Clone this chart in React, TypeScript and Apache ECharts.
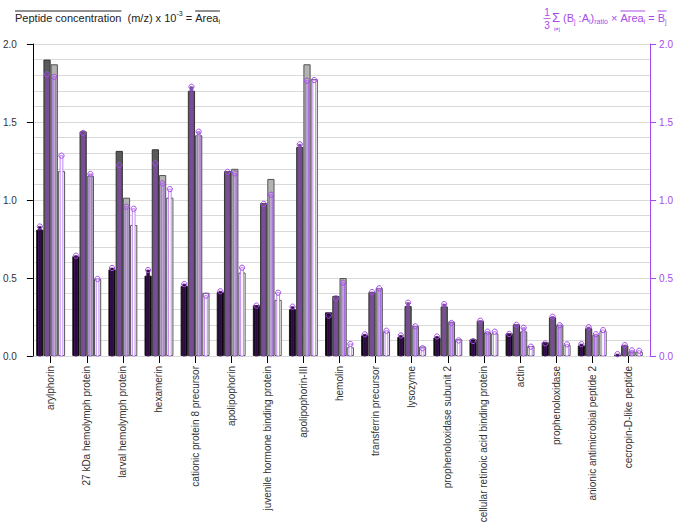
import React, { useEffect, useRef } from "react";
import * as echarts from "echarts";

const categories = [
  "arylphorin",
  "27 kDa hemolymph protein",
  "larval hemolymph protein",
  "hexamerin",
  "cationic protein 8 precursor",
  "apolipophorin",
  "juvenile hormone binding protein",
  "apolipophorin-III",
  "hemolin",
  "transferrin precursor",
  "lysozyme",
  "prophenoloxidase subunit 2",
  "cellular retinoic acid binding protein",
  "actin",
  "prophenoloxidase",
  "anionic antimicrobial peptide 2",
  "cecropin-D-like peptide",
];

// Peptide concentration (left axis), four samples per protein
const areaA = [0.81, 0.64, 0.555, 0.515, 0.45, 0.41, 0.325, 0.3, 0.28, 0.133, 0.122, 0.118, 0.107, 0.145, 0.088, 0.068, 0.005];
const areaB1 = [1.9, 1.44, 1.315, 1.325, 1.7, 1.185, 0.98, 1.34, 0.385, 0.41, 0.32, 0.318, 0.226, 0.203, 0.248, 0.178, 0.068];
const areaB2 = [1.87, 1.155, 1.015, 1.16, 1.415, 1.2, 1.135, 1.87, 0.5, 0.435, 0.192, 0.22, 0.152, 0.158, 0.2, 0.135, 0.03];
const areaB3 = [1.185, 0.495, 0.84, 1.015, 0.405, 0.535, 0.36, 1.775, 0.056, 0.156, 0.06, 0.107, 0.145, 0.064, 0.071, 0.16, 0.028];

// Ratio-derived values (right axis)
const ratioA = [0.83, 0.643, 0.564, 0.551, 0.461, 0.415, 0.323, 0.316, 0.259, 0.139, 0.132, 0.125, 0.096, 0.141, 0.081, 0.076, 0.012];
const ratioB1 = [1.805, 1.43, 1.224, 1.235, 1.726, 1.18, 0.975, 1.357, 0.37, 0.41, 0.342, 0.333, 0.226, 0.2, 0.252, 0.185, 0.07];
const ratioB2 = [1.79, 1.167, 0.957, 1.107, 1.438, 1.171, 1.034, 1.765, 0.47, 0.434, 0.19, 0.212, 0.156, 0.181, 0.197, 0.14, 0.036];
const ratioB3 = [1.284, 0.494, 0.944, 1.07, 0.387, 0.566, 0.406, 1.769, 0.077, 0.162, 0.05, 0.1, 0.156, 0.06, 0.075, 0.166, 0.034];

const PURPLE = "#a64bea";
const FONT = '"Liberation Sans", Arial, sans-serif';

export default function App() {
  const ref = useRef<HTMLDivElement>(null);

  useEffect(() => {
    const chart = echarts.init(ref.current!, null, { renderer: "svg" });

    const cv = document.createElement("canvas").getContext("2d")!;
    const measure = (t: string, s: number) => {
      cv.font = `${s}px ${FONT}`;
      return cv.measureText(t).width;
    };

    const graphics: any[] = [];
    const layout = (x0: number, y0: number, pieces: any[], color: string) => {
      let x = x0;
      pieces.forEach((p) => {
        const w = measure(p.t, p.s);
        graphics.push({
          type: "text",
          x,
          y: y0 + (p.dy || 0),
          style: { text: p.t, fontSize: p.s, fontFamily: FONT, fill: color, align: "left", verticalAlign: "middle" },
        });
        if (p.over) {
          graphics.push({
            type: "line",
            shape: { x1: x, y1: y0 - 7, x2: x + w, y2: y0 - 7 },
            style: { stroke: color, lineWidth: 1 },
          });
        }
        x += w;
      });
    };

    layout(15, 18, [
      { t: "Peptide concentration", s: 11, over: true },
      { t: "  (m/z) x 10", s: 11 },
      { t: "-3", s: 7, dy: -5 },
      { t: " = ", s: 11 },
      { t: "Area", s: 11, over: true },
      { t: "i", s: 7, dy: 3, over: true },
    ], "#222");

    // right formula
    graphics.push({ type: "text", x: 547, y: 12, style: { text: "1", fontSize: 10, fontFamily: FONT, fill: PURPLE, align: "center", verticalAlign: "middle" } });
    graphics.push({ type: "line", shape: { x1: 543.5, y1: 18.5, x2: 550.5, y2: 18.5 }, style: { stroke: PURPLE, lineWidth: 0.8 } });
    graphics.push({ type: "text", x: 547, y: 25, style: { text: "3", fontSize: 10, fontFamily: FONT, fill: PURPLE, align: "center", verticalAlign: "middle" } });
    graphics.push({ type: "text", x: 552, y: 17.5, style: { text: "\u03A3", fontSize: 13, fontFamily: FONT, fill: PURPLE, align: "left", verticalAlign: "middle" } });
    graphics.push({ type: "text", x: 557, y: 28.5, style: { text: "i\u2260j", fontSize: 6, fontFamily: FONT, fill: PURPLE, align: "center", verticalAlign: "middle" } });
    layout(563, 18, [
      { t: "(", s: 11 },
      { t: "B", s: 11 },
      { t: "j", s: 7, dy: 3 },
      { t: " :", s: 11 },
      { t: "A", s: 11 },
      { t: "i", s: 7, dy: 3 },
      { t: ")", s: 11 },
      { t: "ratio", s: 7, dy: 3 },
      { t: " \u00D7 ", s: 11 },
      { t: "Area", s: 11, over: true },
      { t: "i", s: 7, dy: 3, over: true },
      { t: " = ", s: 11 },
      { t: "B", s: 11, over: true },
      { t: "j", s: 7, dy: 3, over: true },
    ], PURPLE);

    const outerData = [areaA, areaB1, areaB2, areaB3];
    const innerData = [ratioA, ratioB1, ratioB2, ratioB3];
    const outerColors = ["#000000", "#5a5a5a", "#b3b3b3", "#ffffff"];
    const outerBorders = ["#1a1a1a", "#333333", "#555555", "#555555"];
    const innerFill = ["#2c0a3e", "#7a4c9a", "#bea8d4", "#ffffff"];
    const innerStroke = ["#4a1a68", "#7a4c9a", "#a65ae8", "#b06cf0"];

    const series: any[] = [];
    outerData.forEach((d, j) => {
      series.push({
        type: "bar",
        name: "outer" + j,
        xAxisIndex: 1,
        yAxisIndex: 3,
        data: d,
        barWidth: "20%",
        barGap: "0%",
        itemStyle: { color: outerColors[j], borderColor: outerBorders[j], borderWidth: 1 },
        z: 2,
      });
    });
    innerData.forEach((d, j) => {
      series.push({
        type: "custom",
        name: "inner" + j,
        xAxisIndex: 1,
        yAxisIndex: 4,
        data: d.map((v, i) => [i, v]),
        encode: { x: 0, y: 1 },
        z: 3,
        renderItem: (params: any, api: any) => {
          const i = api.value(0);
          const v = api.value(1);
          const top = api.coord([i, v]);
          const base = api.coord([i, 0]);
          const band = api.size([1, 0])[0];
          const slot = band * 0.2;
          const cx = top[0] + (j - 1.5) * slot;
          const w = slot * 0.38;
          return {
            type: "group",
            children: [
              {
                type: "rect",
                shape: { x: cx - w / 2, y: top[1], width: w, height: Math.max(base[1] - top[1], 0) },
                style: { fill: innerFill[j], stroke: innerStroke[j], lineWidth: 0.8 },
              },
              {
                type: "circle",
                shape: { cx, cy: top[1], r: 2.6 },
                style: { fill: "rgba(255,255,255,0)", stroke: PURPLE, lineWidth: 1 },
              },
            ],
          };
        },
      });
    });

    chart.setOption({
      animation: false,
      backgroundColor: "#ffffff",
      textStyle: { fontFamily: FONT },
      grid: [
        { left: 29, right: 25, top: 44, bottom: 176 },
        { left: 32.6, right: 29.6, top: 44, bottom: 176 },
      ],
      xAxis: [
        { type: "value", gridIndex: 0, show: false, min: 0, max: 1 },
        {
          type: "category",
          gridIndex: 1,
          data: categories,
          axisLine: { show: false },
          axisTick: { show: true, alignWithLabel: true, length: 7, lineStyle: { color: "#000" } },
          axisLabel: { rotate: 90, interval: 0, fontSize: 10, color: "#333", margin: 10, fontFamily: FONT },
          splitLine: { show: false },
        },
      ],
      yAxis: [
        {
          type: "value",
          gridIndex: 0,
          position: "left",
          min: 0,
          max: 2,
          interval: 0.5,
          axisLine: { show: true, lineStyle: { color: "#000" } },
          axisTick: { show: true, length: 6, lineStyle: { color: "#000" } },
          axisLabel: { formatter: (v: number) => v.toFixed(1), margin: 16, fontSize: 10, color: "#333", fontFamily: FONT },
          splitLine: { show: false },
        },
        {
          type: "value",
          gridIndex: 0,
          position: "right",
          min: 0,
          max: 2,
          interval: 0.5,
          axisLine: { show: true, lineStyle: { color: PURPLE } },
          axisTick: { show: true, length: 6, lineStyle: { color: PURPLE } },
          axisLabel: { formatter: (v: number) => v.toFixed(1), margin: 9, fontSize: 10, color: PURPLE, fontFamily: FONT },
          splitLine: { show: false },
        },
        {
          type: "value",
          gridIndex: 0,
          position: "left",
          min: 0,
          max: 2,
          interval: 0.1,
          axisLine: { show: false },
          axisTick: { show: false },
          axisLabel: { show: false },
          splitLine: { show: true, lineStyle: { color: "#dadada", width: 1 } },
        },
        { type: "value", gridIndex: 1, position: "left", min: 0, max: 2, show: false, splitLine: { show: false } },
        { type: "value", gridIndex: 1, position: "right", min: 0, max: 2, show: false, splitLine: { show: false } },
      ],
      graphic: graphics,
      series,
    });

    return () => chart.dispose();
  }, []);

  return <div ref={ref} style={{ position: "fixed", left: 0, top: 0, width: 676, height: 532, background: "#fff" }} />;
}
